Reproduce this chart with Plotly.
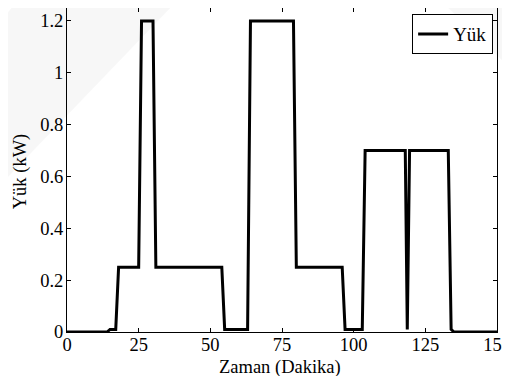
import plotly.graph_objects as go

# Data (time in minutes, load in kW)
zaman = [0, 14, 15, 17, 18, 25, 26, 30, 31, 54, 55, 63, 64, 79, 80, 96, 97, 103, 104,
         118, 118.7, 119.5, 133, 134, 135, 150]
yuk = [0, 0, 0.01, 0.01, 0.25, 0.25, 1.2, 1.2, 0.25, 0.25, 0.01, 0.01, 1.2, 1.2, 0.25,
       0.25, 0.01, 0.01, 0.7, 0.7, 0.01, 0.7, 0.7, 0.01, 0, 0]

x_ticks = [0, 25, 50, 75, 100, 125, 150]
x_ticklabels = ["0", "25", "50", "75", "100", "125", "150"]
y_ticks = [0, 0.2, 0.4, 0.6, 0.8, 1.0, 1.2]
y_ticklabels = ["0", "0.2", "0.4", "0.6", "0.8", "1", "1.2"]
x_title = "Zaman (Dakika)"
y_title = "Yük (kW)"

FONT = "Liberation Serif"
FS = 18.5

fig = go.Figure()
fig.add_trace(go.Scatter(
    x=zaman, y=yuk, mode="lines", name="Yük",
    line=dict(color="black", width=3),
))

axis_common = dict(
    showline=True, mirror="ticks", linecolor="black", linewidth=1,
    ticks="inside", ticklen=4, tickcolor="black", tickwidth=1,
    showgrid=False, zeroline=False, automargin=False,
    ticklabeloverflow="allow",
    tickfont=dict(family=FONT, size=FS, color="black"),
)


def px2paper(X, Y):
    return (X - 67) / 430.0, (331.5 - Y) / 323.5


def poly(points):
    pts = [px2paper(X, Y) for X, Y in points]
    return "M " + " L ".join(f"{a:.4f},{b:.4f}" for a, b in pts) + " Z"


# faint background watermark bands
shapes = [
    dict(type="path", xref="paper", yref="paper", layer="below",
         path=poly([(18, 0), (178, 0), (0, 185), (0, 22)]),
         fillcolor="rgba(0,0,0,0.03)", line=dict(width=0)),
    dict(type="path", xref="paper", yref="paper", layer="below",
         path=poly([(440, 0), (512, 0), (512, 70)]),
         fillcolor="rgba(0,0,0,0.03)", line=dict(width=0)),
]

xt_x, xt_y = px2paper(280, 367)
yt_x, yt_y = px2paper(20, 171)
annotations = [
    dict(text=x_title, xref="paper", yref="paper", x=xt_x, y=xt_y,
         xanchor="center", yanchor="middle", showarrow=False,
         font=dict(family=FONT, size=FS, color="black")),
    dict(text=y_title, xref="paper", yref="paper", x=yt_x, y=yt_y,
         xanchor="center", yanchor="middle", showarrow=False, textangle=-90,
         font=dict(family=FONT, size=FS, color="black")),
]

# page body has an 8px margin, so the figure is sized to fit the window
fig.update_layout(
    width=502, height=368,
    margin=dict(l=59, r=13, t=0, b=44, autoexpand=False),
    paper_bgcolor="white", plot_bgcolor="rgba(0,0,0,0)",
    font=dict(family=FONT, size=FS, color="black"),
    shapes=shapes,
    annotations=annotations,
    xaxis=dict(range=[0, 150], tickvals=x_ticks, ticktext=x_ticklabels,
               ticklabelstandoff=-4, **axis_common),
    yaxis=dict(range=[0, 1.25], tickvals=y_ticks, ticktext=y_ticklabels,
               ticklabelstandoff=-1, **axis_common),
    showlegend=True,
    legend=dict(x=0.991, y=0.981, xanchor="right", yanchor="top",
                bgcolor="white", bordercolor="black", borderwidth=1,
                font=dict(family=FONT, size=19, color="black"),
                tracegroupgap=0, itemwidth=30),
)

fig.write_html("out.html")
